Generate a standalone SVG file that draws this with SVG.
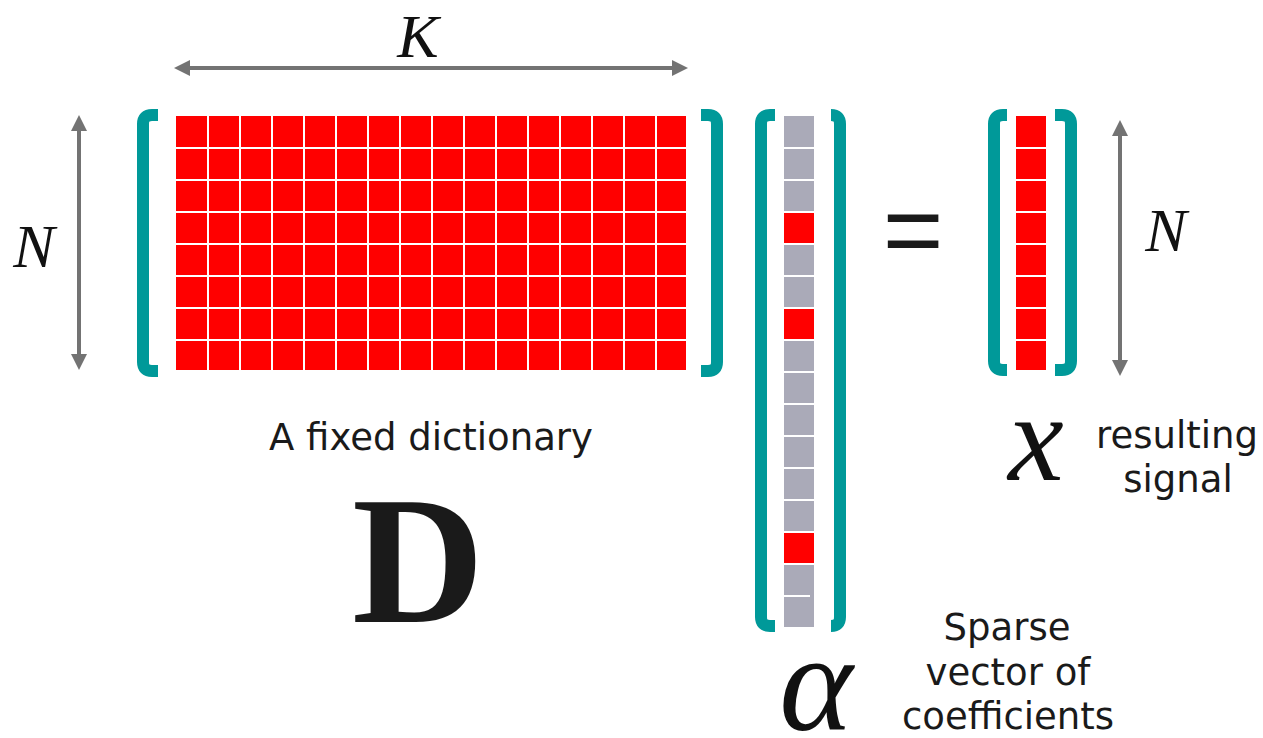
<svg xmlns="http://www.w3.org/2000/svg" width="1263" height="738" viewBox="0 0 1263 738">
<style>
.br{fill:none;stroke:#009999;stroke-width:12}
.red{fill:#FF0000}
.gray{fill:#AAAAB8}
.grid{stroke:#FFFFFF;stroke-width:2}
.arr{stroke:#737373;stroke-width:4;fill:none}
.lbl{font-family:"DejaVu Sans",Verdana,sans-serif;font-size:37px;fill:#1A1A1A;text-anchor:middle}
.math{font-family:"Liberation Serif","DejaVu Serif",serif;font-style:italic;fill:#111111;text-anchor:middle}
</style>
<defs>
<marker id="ah" viewBox="0 0 16 16" refX="8" refY="8" markerWidth="16" markerHeight="16" markerUnits="userSpaceOnUse" orient="auto-start-reverse">
<path d="M0,0 L16,8 L0,16 z" fill="#737373"/>
</marker>
</defs>
<rect width="1263" height="738" fill="#FFFFFF"/>

<g id="connectors">
<line class="arr" x1="182" y1="68" x2="680" y2="68" marker-start="url(#ah)" marker-end="url(#ah)"/>
<line class="arr" x1="79" y1="123" x2="79" y2="362" marker-start="url(#ah)" marker-end="url(#ah)"/>
<line class="arr" x1="1120" y1="128" x2="1120" y2="368" marker-start="url(#ah)" marker-end="url(#ah)"/>
</g>

<g id="matrix-D">
<rect class="red" x="176" y="116" width="510" height="254"/>
<g class="grid">
<line x1="208" y1="116" x2="208" y2="370"/><line x1="240" y1="116" x2="240" y2="370"/>
<line x1="272" y1="116" x2="272" y2="370"/><line x1="304" y1="116" x2="304" y2="370"/>
<line x1="336" y1="116" x2="336" y2="370"/><line x1="368" y1="116" x2="368" y2="370"/>
<line x1="400" y1="116" x2="400" y2="370"/><line x1="432" y1="116" x2="432" y2="370"/>
<line x1="464" y1="116" x2="464" y2="370"/><line x1="496" y1="116" x2="496" y2="370"/>
<line x1="528" y1="116" x2="528" y2="370"/><line x1="560" y1="116" x2="560" y2="370"/>
<line x1="592" y1="116" x2="592" y2="370"/><line x1="624" y1="116" x2="624" y2="370"/>
<line x1="656" y1="116" x2="656" y2="370"/>
<line x1="176" y1="148" x2="686" y2="148"/><line x1="176" y1="180" x2="686" y2="180"/>
<line x1="176" y1="212" x2="686" y2="212"/><line x1="176" y1="244" x2="686" y2="244"/>
<line x1="176" y1="276" x2="686" y2="276"/><line x1="176" y1="308" x2="686" y2="308"/>
<line x1="176" y1="340" x2="686" y2="340"/>
</g>
<path class="br" d="M158,115 H152 Q143,115 143,124 V362 Q143,371 152,371 H158"/>
<path class="br" d="M701,115 H708 Q717,115 717,124 V362 Q717,371 708,371 H701"/>
<text class="math" x="418" y="57" font-size="62">K</text>
<text class="math" x="34" y="267" font-size="62">N</text>
<text class="lbl" x="431" y="450">A fixed dictionary</text>
<text x="418" y="622" font-family="'Liberation Serif','DejaVu Serif',serif" font-weight="bold" font-size="183" fill="#1A1A1A" text-anchor="middle">D</text>
</g>

<g id="vector-alpha">
<rect class="gray" x="784" y="116" width="30" height="511"/>
<rect class="red" x="784" y="212" width="30" height="32"/>
<rect class="red" x="784" y="308" width="30" height="32"/>
<rect class="red" x="784" y="532" width="30" height="32"/>
<g class="grid">
<line x1="784" y1="148" x2="814" y2="148"/><line x1="784" y1="180" x2="814" y2="180"/>
<line x1="784" y1="212" x2="814" y2="212"/><line x1="784" y1="244" x2="814" y2="244"/>
<line x1="784" y1="276" x2="814" y2="276"/><line x1="784" y1="308" x2="814" y2="308"/>
<line x1="784" y1="340" x2="814" y2="340"/><line x1="784" y1="372" x2="814" y2="372"/>
<line x1="784" y1="404" x2="814" y2="404"/><line x1="784" y1="436" x2="814" y2="436"/>
<line x1="784" y1="468" x2="814" y2="468"/><line x1="784" y1="500" x2="814" y2="500"/>
<line x1="784" y1="532" x2="814" y2="532"/><line x1="784" y1="564" x2="814" y2="564"/>
<line x1="784" y1="596" x2="810" y2="596"/>
</g>
<path class="br" d="M775,115 H770 Q761,115 761,124 V617 Q761,626 770,626 H775"/>
<path class="br" d="M831,115 H831 Q840,115 840,124 V617 Q840,626 831,626 H831"/>
<text class="math" x="816" y="730" font-size="140">α</text>
<text class="lbl" x="1007" y="640">Sparse</text>
<text class="lbl" x="1008" y="685">vector of</text>
<text class="lbl" x="1008" y="729">coefficients</text>
</g>

<g id="equals">
<text x="913" y="265" font-family="'Liberation Sans',Arial,sans-serif" font-size="104" fill="#1A1A1A" text-anchor="middle">=</text>
</g>

<g id="vector-x">
<rect class="red" x="1016" y="116" width="30" height="254"/>
<g class="grid">
<line x1="1016" y1="148" x2="1046" y2="148"/><line x1="1016" y1="180" x2="1046" y2="180"/>
<line x1="1016" y1="212" x2="1046" y2="212"/><line x1="1016" y1="244" x2="1046" y2="244"/>
<line x1="1016" y1="276" x2="1046" y2="276"/><line x1="1016" y1="308" x2="1046" y2="308"/>
<line x1="1016" y1="340" x2="1046" y2="340"/>
</g>
<path class="br" d="M1007,115 H1003 Q994,115 994,124 V361 Q994,370 1003,370 H1007"/>
<path class="br" d="M1055,115 H1062 Q1071,115 1071,124 V361 Q1071,370 1062,370 H1055"/>
<text class="math" x="1166" y="251" font-size="62">N</text>
<text class="math" x="1036" y="480" font-size="125">x</text>
<text class="lbl" x="1177" y="448">resulting</text>
<text class="lbl" x="1178" y="492">signal</text>
</g>
</svg>
